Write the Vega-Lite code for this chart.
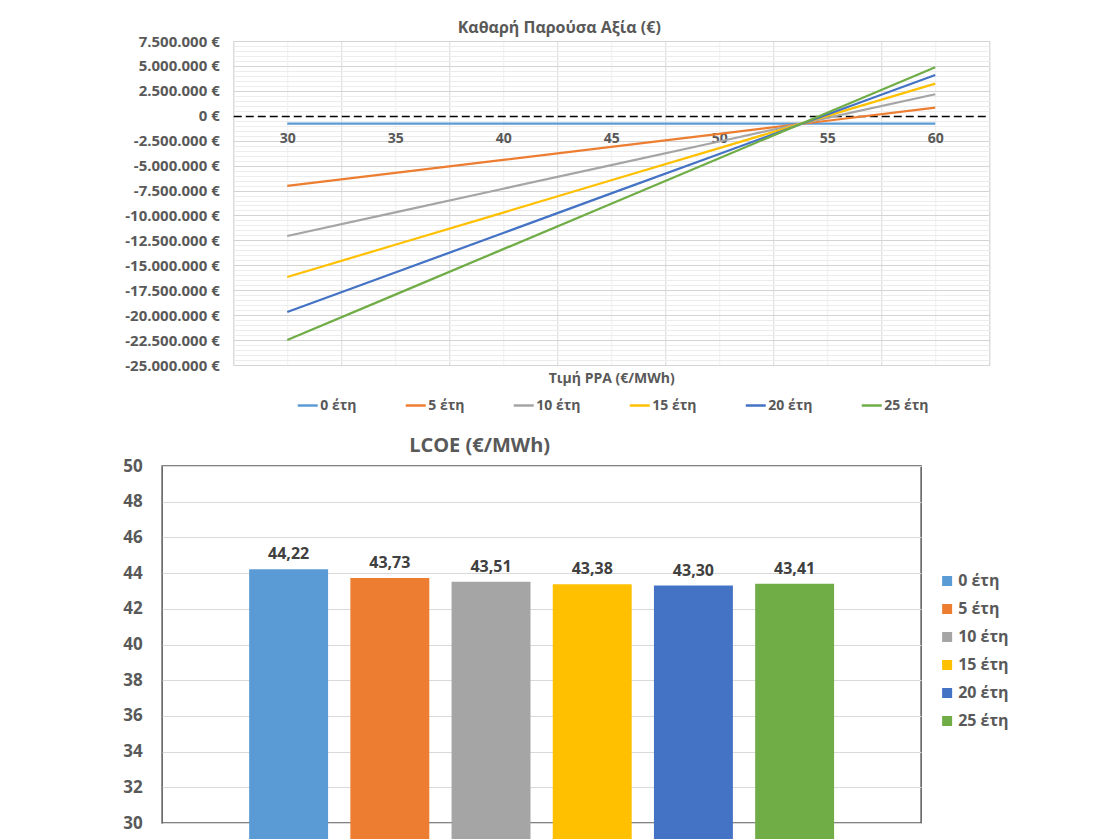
{
  "$schema": "https://vega.github.io/schema/vega-lite/v6.json",
  "background": "white",
  "padding": {"left": 121, "top": 19, "right": 5, "bottom": 0},
  "center": true,
  "spacing": 21,
  "resolve": {"scale": {"color": "independent"}, "legend": {"color": "independent"}},
  "config": {
    "font": "Open Sans",
    "locale": {"number": {"decimal": ",", "thousands": ".", "grouping": [3], "currency": ["", " €"], "minus": "-"}},
    "title": {"font": "Open Sans", "fontWeight": "bold", "color": "#595959"},
    "axis": {"labelFont": "Open Sans", "labelFontWeight": "bold", "labelColor": "#595959", "titleFont": "Open Sans", "titleFontWeight": "bold", "titleColor": "#595959", "labelOverlap": false, "labelFlush": false},
    "legend": {"labelFont": "Open Sans", "labelFontWeight": "bold", "labelColor": "#595959"}
  },
  "datasets": {
    "npv": [
      {"ppa": 30, "series": "0 έτη", "npv": -800000},
      {"ppa": 35, "series": "0 έτη", "npv": -800000},
      {"ppa": 40, "series": "0 έτη", "npv": -800000},
      {"ppa": 45, "series": "0 έτη", "npv": -800000},
      {"ppa": 50, "series": "0 έτη", "npv": -800000},
      {"ppa": 55, "series": "0 έτη", "npv": -800000},
      {"ppa": 60, "series": "0 έτη", "npv": -800000},
      {"ppa": 30, "series": "5 έτη", "npv": -7040000},
      {"ppa": 35, "series": "5 έτη", "npv": -5730000},
      {"ppa": 40, "series": "5 έτη", "npv": -4420000},
      {"ppa": 45, "series": "5 έτη", "npv": -3110000},
      {"ppa": 50, "series": "5 έτη", "npv": -1810000},
      {"ppa": 55, "series": "5 έτη", "npv": -500000},
      {"ppa": 60, "series": "5 έτη", "npv": 810000},
      {"ppa": 30, "series": "10 έτη", "npv": -12060000},
      {"ppa": 35, "series": "10 έτη", "npv": -9690000},
      {"ppa": 40, "series": "10 έτη", "npv": -7320000},
      {"ppa": 45, "series": "10 έτη", "npv": -4950000},
      {"ppa": 50, "series": "10 έτη", "npv": -2580000},
      {"ppa": 55, "series": "10 έτη", "npv": -210000},
      {"ppa": 60, "series": "10 έτη", "npv": 2160000},
      {"ppa": 30, "series": "15 έτη", "npv": -16170000},
      {"ppa": 35, "series": "15 έτη", "npv": -12940000},
      {"ppa": 40, "series": "15 έτη", "npv": -9710000},
      {"ppa": 45, "series": "15 έτη", "npv": -6470000},
      {"ppa": 50, "series": "15 έτη", "npv": -3240000},
      {"ppa": 55, "series": "15 έτη", "npv": -10000},
      {"ppa": 60, "series": "15 έτη", "npv": 3220000},
      {"ppa": 30, "series": "20 έτη", "npv": -19680000},
      {"ppa": 35, "series": "20 έτη", "npv": -15720000},
      {"ppa": 40, "series": "20 έτη", "npv": -11760000},
      {"ppa": 45, "series": "20 έτη", "npv": -7790000},
      {"ppa": 50, "series": "20 έτη", "npv": -3830000},
      {"ppa": 55, "series": "20 έτη", "npv": 130000},
      {"ppa": 60, "series": "20 έτη", "npv": 4090000},
      {"ppa": 30, "series": "25 έτη", "npv": -22500000},
      {"ppa": 35, "series": "25 έτη", "npv": -17940000},
      {"ppa": 40, "series": "25 έτη", "npv": -13380000},
      {"ppa": 45, "series": "25 έτη", "npv": -8820000},
      {"ppa": 50, "series": "25 έτη", "npv": -4260000},
      {"ppa": 55, "series": "25 έτη", "npv": 300000},
      {"ppa": 60, "series": "25 έτη", "npv": 4860000}
    ],
    "lcoe": [
      {"series": "0 έτη", "lcoe": 44.22},
      {"series": "5 έτη", "lcoe": 43.73},
      {"series": "10 έτη", "lcoe": 43.51},
      {"series": "15 έτη", "lcoe": 43.38},
      {"series": "20 έτη", "lcoe": 43.30},
      {"series": "25 έτη", "lcoe": 43.41}
    ]
  },
  "vconcat": [
    {
      "width": 756,
      "height": 324,
      "title": {"text": "Καθαρή Παρούσα Αξία (€)", "fontSize": 16, "offset": -2, "dx": -52, "frame": "group"},
      "view": {"stroke": "#d9d9d9"},
      "data": {"name": "npv"},
      "mark": {"type": "line", "strokeWidth": 2.25},
      "encoding": {
        "x": {
          "field": "ppa", "type": "quantitative",
          "scale": {"domain": [27.5, 62.5], "nice": false, "zero": false},
          "axis": {
            "values": [27.5, 30, 32.5, 35, 37.5, 40, 42.5, 45, 47.5, 50, 52.5, 55, 57.5, 60, 62.5],
            "labelExpr": "datum.value % 5 === 0 ? datum.value + '' : ''",
            "offset": -249,
            "domain": false, "ticks": false,
            "labelPadding": 15, "labelFontSize": 14,
            "labelFlush": false, "labelOverlap": false,
            "gridColor": {"condition": {"test": "(datum.value - 27.5) % 5 === 0", "value": "#d9d9d9"}, "value": "#efefef"},
            "title": "Τιμή PPA (€/MWh)", "titleFontSize": 14,
            "titleY": 262, "titleBaseline": "middle"
          }
        },
        "y": {
          "field": "npv", "type": "quantitative",
          "scale": {"domain": [-25000000, 7500000], "nice": false, "zero": false},
          "axis": {
            "values": [-25000000,-24500000,-24000000,-23500000,-23000000,-22500000,-22000000,-21500000,-21000000,-20500000,-20000000,-19500000,-19000000,-18500000,-18000000,-17500000,-17000000,-16500000,-16000000,-15500000,-15000000,-14500000,-14000000,-13500000,-13000000,-12500000,-12000000,-11500000,-11000000,-10500000,-10000000,-9500000,-9000000,-8500000,-8000000,-7500000,-7000000,-6500000,-6000000,-5500000,-5000000,-4500000,-4000000,-3500000,-3000000,-2500000,-2000000,-1500000,-1000000,-500000,0,500000,1000000,1500000,2000000,2500000,3000000,3500000,4000000,4500000,5000000,5500000,6000000,6500000,7000000,7500000],
            "labelExpr": "datum.value % 2500000 === 0 ? format(datum.value, '$,.0f') : ''",
            "domain": false, "ticks": false,
            "labelPadding": 14, "labelFontSize": 15,
            "labelFlush": false, "labelOverlap": false,
            "gridColor": {"condition": [{"test": "datum.value === 0", "value": "#000000"}, {"test": "datum.value % 2500000 === 0", "value": "#d4d4d4"}], "value": "#ececec"},
            "gridDash": {"condition": {"test": "datum.value === 0", "value": [8, 4]}, "value": []},
            "gridWidth": {"condition": {"test": "datum.value === 0", "value": 1.5}, "value": 1},
            "title": null
          }
        },
        "color": {
          "field": "series", "type": "nominal",
          "scale": {"domain": ["0 έτη", "5 έτη", "10 έτη", "15 έτη", "20 έτη", "25 έτη"], "range": ["#5B9BD5", "#ED7D31", "#A5A5A5", "#FFC000", "#4472C4", "#70AD47"]},
          "legend": {
            "orient": "none", "legendX": 63, "legendY": 353,
            "direction": "horizontal", "title": null,
            "symbolType": "stroke", "symbolSize": 400, "symbolStrokeWidth": 2.5,
            "labelFontSize": 14, "labelOffset": 1,
            "columnPadding": 43, "gridAlign": "none", "padding": 0
          }
        }
      }
    },
    {
      "width": 759,
      "height": 357,
      "title": {"text": "LCOE (€/MWh)", "fontSize": 20, "offset": 1, "dx": -62},
      "view": {"stroke": "#595959", "strokeWidth": 1.5},
      "data": {"name": "lcoe"},
      "encoding": {
        "x": {
          "field": "series", "type": "nominal",
          "sort": ["0 έτη", "5 έτη", "10 έτη", "15 έτη", "20 έτη", "25 έτη"],
          "scale": {"paddingInner": 0.22, "paddingOuter": 0.86},
          "axis": null
        },
        "y": {
          "field": "lcoe", "type": "quantitative",
          "scale": {"domain": [30, 50], "nice": false, "zero": false},
          "axis": {
            "values": [30, 32, 34, 36, 38, 40, 42, 44, 46, 48, 50],
            "domain": false, "ticks": false,
            "labelPadding": 20, "labelFontSize": 17,
            "labelFlush": false, "labelOverlap": false,
            "gridColor": "#d9d9d9",
            "title": null
          }
        }
      },
      "layer": [
        {
          "mark": {"type": "bar"},
          "encoding": {
            "color": {
              "field": "series", "type": "nominal",
              "scale": {"domain": ["0 έτη", "5 έτη", "10 έτη", "15 έτη", "20 έτη", "25 έτη"], "range": ["#5B9BD5", "#ED7D31", "#A5A5A5", "#FFC000", "#4472C4", "#70AD47"]},
              "legend": {
                "orient": "none", "legendX": 726, "legendY": 56,
                "direction": "vertical", "title": null,
                "symbolType": "square", "symbolSize": 100,
                "labelFontSize": 16, "labelOffset": 3,
                "rowPadding": 12, "padding": 51
              }
            }
          }
        },
        {
          "mark": {"type": "text", "dy": -15, "fontSize": 16, "fontWeight": "bold", "color": "#404040"},
          "encoding": {"text": {"field": "lcoe", "type": "quantitative", "format": ".2f"}}
        }
      ]
    }
  ]
}
